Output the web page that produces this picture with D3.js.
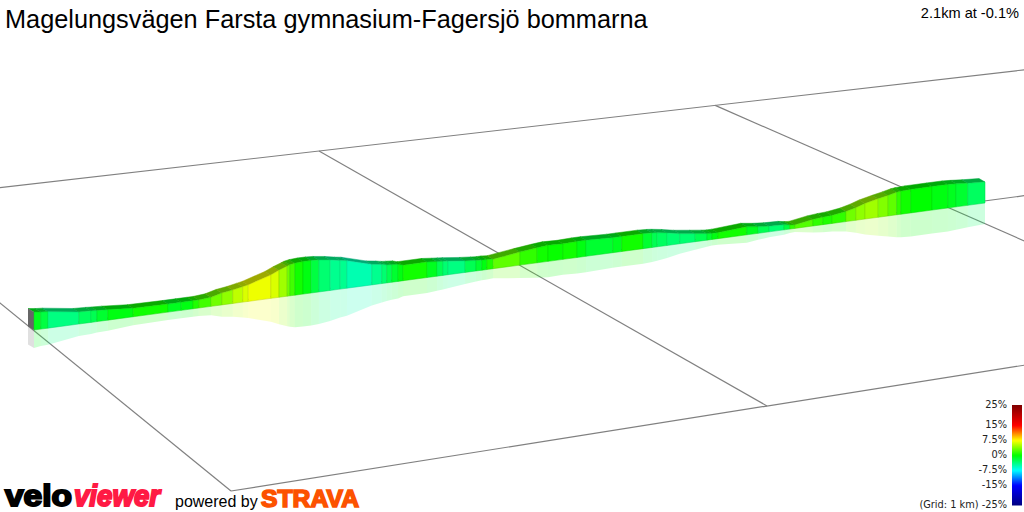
<!DOCTYPE html>
<html>
<head>
<meta charset="utf-8">
<script src="https://d3js.org/d3.v7.min.js"></script>
<style>
body { margin: 0; background: #fff; }
svg { display: block; }
</style>
</head>
<body>
<svg id="plot" width="1024" height="512"></svg>
<script>
const titleText = "Magelungsvägen Farsta gymnasium-Fagersjö bommarna"
const summaryText = "2.1km at -0.1%"
// distance along the climb (km), one entry per segment boundary
const routeKm = [0,.015,.031,.099,.126,.139,.163,.219,.296,.325,.351,.364,.391,.415,.439,.461,.473,.523,.541,.559,.565,.576,.594,.612,.629,.654,.676,.691,.746,.768,.779,.790,.804,.815,.868,.890,.903,.914,.952,.976,.989,1.000,1.014,1.073,1.111,1.135,1.168,1.199,1.219,1.278,1.298,1.345,1.365,1.376,1.398,1.426,1.460,1.486,1.497,1.510,1.574,1.599,1.623,1.656,1.669,1.680,1.720,1.742,1.762,1.793,1.815,1.835,1.864,1.886,1.905,1.914,1.936,1.983,2.018,2.036,2.062,2.100]
// height above the grid at each boundary
const elevation = [18,17,16.5,12,11.5,11,10.5,8.5,8,8,8,8,9,11.9,13.4,15.4,16.5,23.4,27,30,31,32,32.5,32.5,32,30.5,28.5,27.5,20.5,19,18,17.5,17,15.5,15.5,14.5,14,13.5,11.5,10.5,10,10,9.5,13,15,16,15.5,16,16,15,15,15,14.5,14,12.5,10,8,6.5,6,6,8,6.5,5.5,5,4,3.5,6.5,7.5,8,10,12.5,15.5,18.5,20.5,22.5,23,23.5,23.5,23.5,23,22,21]
// gradient (%) of each segment
const grade = [-0.9,-1.9,-3.8,-2.8,-2.4,-1.4,-0.5,0.5,-0.9,-0.5,0.9,1.9,3.3,4.2,5.6,6.4,7.0,6.4,4.7,3.3,1.9,0.5,-0.5,-1.9,-3.3,-4.2,-4.2,-5.2,-4.2,-3.3,-2.4,-1.4,-0.5,0.5,-0.9,-2.4,-3.3,-3.8,-2.4,-1.4,-0.5,0.9,2.8,1.4,0.5,0.2,0.5,-0.5,-1.4,-0.9,0.5,-1.4,-2.4,-2.8,-3.3,-3.3,-2.4,-1.4,-0.5,0.5,-0.9,-2.4,-3.3,-1.9,1.4,2.4,1.4,0.9,1.4,3.3,4.2,4.7,3.8,2.8,1.4,0.5,0,-0.5,-0.9,-1.4,-2.8]
const legendTicks = [25,15,7.5,0,-7.5,-15,-25]
const legendLabels = ["25%","15%","7.5%","0%","-7.5%","-15%","(Grid: 1 km) -25%"]
const gridCols = [0,1,2]
const gridRows = [0,1,2]

const svg = d3.select("#plot")

const xScale = d3.scaleLinear().domain([0,2.1]).range([34,985])
const baseScale = d3.scaleLinear().domain([0,2.1]).range([330,203])
const heightScale = d3.scaleLinear().domain([0,40]).range([0,40])
const colorScale = d3.scaleLinear()
    .domain([-25,-15,-7.5,0,7.5,15,25])
    .range(["#000080","#0000ff","#00ffff","#00ff00","#ffff00","#ff0000","#800000"])
const legendY = d3.scaleLinear().domain([-25,25]).range([505,405])

// ground grid, 1 km cells seen in perspective
function makeProjection(p0,p1,p2,p3) {
    const dx1=p1[0]-p2[0], dx2=p3[0]-p2[0], sx=p0[0]-p1[0]+p2[0]-p3[0]
    const dy1=p1[1]-p2[1], dy2=p3[1]-p2[1], sy=p0[1]-p1[1]+p2[1]-p3[1]
    const den=dx1*dy2-dx2*dy1
    const g=(sx*dy2-dx2*sy)/den, h=(dx1*sy-sx*dy1)/den
    const a=p1[0]-p0[0]+g*p1[0], b=p3[0]-p0[0]+h*p3[0]
    const d=p1[1]-p0[1]+g*p1[1], e=p3[1]-p0[1]+h*p3[1]
    return function(col,row) {
        const v=row/2, w=g*col+h*v+1
        return [(a*col+b*v+p0[0])/w,(d*col+e*v+p0[1])/w]
    }
}
const project = makeProjection([231,491],[767,406],[319,151],[-124,202])
const gridG = svg.append("g").attr("stroke","#808080").attr("stroke-width",1.2).attr("fill","none")
gridRows.forEach(function(r) {
    gridG.append("path").attr("d",d3.line()([project(0,r),project(3,r)]))
})
gridCols.forEach(function(c) {
    gridG.append("path").attr("d",d3.line()([project(c,0),project(c,2)]))
})

// one point on the wall: km index, share of the wall height (1 top, 0 foot, -1 mirrored)
function pt(i,share,dx,dy) {
    const k=routeKm[i]
    return [xScale(k)+(dx||0), baseScale(k)-share*heightScale(elevation[i])+(dy||0)]
}
const segs = d3.range(routeKm.length-1)
const backX=-6, backY=-3.5
const poly = d3.line()

// reflection under the grid
svg.append("path")
    .attr("d",poly([pt(0,0),pt(0,-1),pt(0,-1,backX,backY),pt(0,0,backX,backY)])+"Z")
    .attr("fill","#666").attr("opacity",0.2)
svg.append("g").selectAll("path").data(segs).enter().append("path")
    .attr("d",function(i) { return poly([pt(i,0),pt(i+1,0),pt(i+1,-1),pt(i,-1)])+"Z" })
    .attr("fill",function(i) { return colorScale(grade[i]) })
    .attr("opacity",0.2)

// top of the ribbon
svg.append("g").selectAll("path").data(segs).enter().append("path")
    .attr("d",function(i) { return poly([pt(i,1),pt(i+1,1),pt(i+1,1,backX,backY),pt(i,1,backX,backY)])+"Z" })
    .attr("fill",function(i) { return d3.rgb(colorScale(grade[i])).darker(1.15) })
    .attr("stroke",function(i) { return d3.rgb(colorScale(grade[i])).darker(1.15) })
    .attr("stroke-width",0.5)

// start cap
svg.append("path")
    .attr("d",poly([pt(0,1),pt(0,0),pt(0,0,backX,backY),pt(0,1,backX,backY)])+"Z")
    .attr("fill","#666")

// front wall
svg.append("g").selectAll("path").data(segs).enter().append("path")
    .attr("d",function(i) { return poly([pt(i,1),pt(i+1,1),pt(i+1,0),pt(i,0)])+"Z" })
    .attr("fill",function(i) { return colorScale(grade[i]) })
    .attr("stroke",function(i) { return d3.rgb(colorScale(grade[i])).darker(0.5) })
    .attr("stroke-width",0.5)

// titles
svg.append("text").attr("x",5).attr("y",28)
    .style("font-family","Liberation Sans").style("font-size","25.3px").text(titleText)
svg.append("text").attr("x",1019).attr("y",18)
    .style("font-family","Liberation Sans").style("font-size","14.6px").style("text-anchor","end").text(summaryText)

// colour legend
svg.append("g").selectAll("rect").data(d3.range(-25,25,0.5)).enter().append("rect")
    .attr("x",1012).attr("width",10)
    .attr("y",function(d) { return legendY(d+0.5) })
    .attr("height",function(d) { return legendY(d)-legendY(d+0.5)+0.5 })
    .attr("fill",function(d) { return colorScale(d+0.25) })
svg.append("g").selectAll("text").data(legendTicks).enter().append("text")
    .attr("x",1007)
    .attr("y",function(d) { return legendY(d)+3 })
    .style("font-family","DejaVu Sans").style("font-size","9.8px").style("text-anchor","end")
    .style("fill","#222")
    .text(function(d,i) { return legendLabels[i] })

// logos
function logoText(x,y,size,len,col,italic,sw,str) {
    svg.append("text").attr("x",x).attr("y",y)
        .attr("textLength",len).attr("lengthAdjust","spacingAndGlyphs")
        .style("font-family","Liberation Sans").style("font-weight","bold")
        .style("font-style",italic ? "italic" : "normal")
        .style("font-size",size+"px")
        .attr("fill",col).attr("stroke",col).attr("stroke-width",sw)
        .text(str)
}
logoText(5,505.5,30,67,"#000",false,2,"velo")
logoText(74,505.5,30,86,"#ff1a44",true,2,"viewer")
svg.append("text").attr("x",175).attr("y",507)
    .style("font-family","Liberation Sans").style("font-size","16px").text("powered by")
logoText(261,506.5,24,98,"#fc5200",false,1.6,"STRAVA")
</script>
</body>
</html>
